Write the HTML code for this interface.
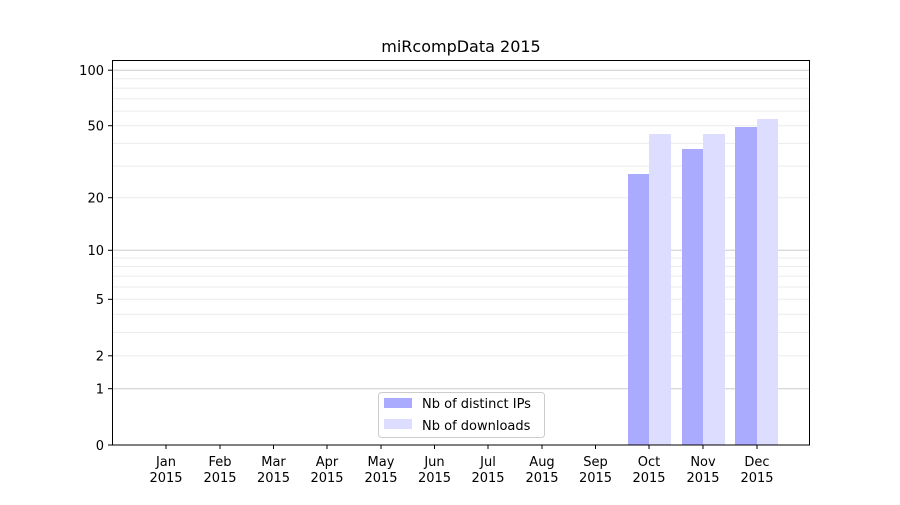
<!DOCTYPE html>
<html><head><meta charset="utf-8"><style>body{margin:0;background:#fff}</style></head><body>
<svg width="900" height="500" xmlns="http://www.w3.org/2000/svg" font-family="DejaVu Sans, Liberation Sans, sans-serif" font-size="13">
<rect width="900" height="500" fill="#fff"/>
<g stroke="#ebebeb" stroke-width="1">
<line x1="112" x2="810" y1="355.8" y2="355.8"/><line x1="112" x2="810" y1="332.4" y2="332.4"/><line x1="112" x2="810" y1="314.3" y2="314.3"/><line x1="112" x2="810" y1="299.3" y2="299.3"/><line x1="112" x2="810" y1="287" y2="287"/><line x1="112" x2="810" y1="276.1" y2="276.1"/><line x1="112" x2="810" y1="266.5" y2="266.5"/><line x1="112" x2="810" y1="258" y2="258"/>
<line x1="112" x2="810" y1="197.7" y2="197.7"/><line x1="112" x2="810" y1="166.1" y2="166.1"/><line x1="112" x2="810" y1="143.4" y2="143.4"/><line x1="112" x2="810" y1="125.7" y2="125.7"/><line x1="112" x2="810" y1="111.1" y2="111.1"/><line x1="112" x2="810" y1="98.8" y2="98.8"/><line x1="112" x2="810" y1="88.1" y2="88.1"/><line x1="112" x2="810" y1="78.7" y2="78.7"/>
</g>
<g stroke="#cccccc" stroke-width="1">
<line x1="112" x2="810" y1="388.7" y2="388.7"/><line x1="112" x2="810" y1="250.3" y2="250.3"/><line x1="112" x2="810" y1="70.2" y2="70.2"/>
</g>
<g fill="#aaaaff">
<rect x="628" y="174" width="21" height="271"/><rect x="682" y="149" width="21" height="296"/><rect x="735" y="127" width="22" height="318"/>
</g>
<g fill="#ddddff">
<rect x="649" y="134" width="22" height="311"/><rect x="703" y="134" width="22" height="311"/><rect x="757" y="119" width="21" height="326"/>
</g>
<rect x="112.5" y="60.5" width="697" height="384.5" fill="none" stroke="#000"/>
<g stroke="#000">
<line x1="108" x2="112" y1="445" y2="445"/><line x1="108" x2="112" y1="388.7" y2="388.7"/><line x1="108" x2="112" y1="355.8" y2="355.8"/><line x1="108" x2="112" y1="299.3" y2="299.3"/><line x1="108" x2="112" y1="250.3" y2="250.3"/><line x1="108" x2="112" y1="197.7" y2="197.7"/><line x1="108" x2="112" y1="125.7" y2="125.7"/><line x1="108" x2="112" y1="70.2" y2="70.2"/>
</g>
<g text-anchor="end">
<text x="104" y="450">0</text><text x="104" y="393.5">1</text><text x="104" y="360.5">2</text><text x="104" y="304">5</text><text x="104" y="255">10</text><text x="104" y="202.5">20</text><text x="104" y="130.5">50</text><text x="104" y="75">100</text>
</g>
<g stroke="#000">
<line x1="166" x2="166" y1="445" y2="449"/><line x1="220" x2="220" y1="445" y2="449"/><line x1="273.5" x2="273.5" y1="445" y2="449"/><line x1="327" x2="327" y1="445" y2="449"/><line x1="381" x2="381" y1="445" y2="449"/><line x1="434.5" x2="434.5" y1="445" y2="449"/><line x1="488" x2="488" y1="445" y2="449"/><line x1="542" x2="542" y1="445" y2="449"/><line x1="595.5" x2="595.5" y1="445" y2="449"/><line x1="649" x2="649" y1="445" y2="449"/><line x1="703" x2="703" y1="445" y2="449"/><line x1="757" x2="757" y1="445" y2="449"/>
</g>
<g text-anchor="middle">
<text x="166" y="466">Jan</text><text x="166" y="482">2015</text>
<text x="220" y="466">Feb</text><text x="220" y="482">2015</text>
<text x="273.5" y="466">Mar</text><text x="273.5" y="482">2015</text>
<text x="327" y="466">Apr</text><text x="327" y="482">2015</text>
<text x="381" y="466">May</text><text x="381" y="482">2015</text>
<text x="434.5" y="466">Jun</text><text x="434.5" y="482">2015</text>
<text x="488" y="466">Jul</text><text x="488" y="482">2015</text>
<text x="542" y="466">Aug</text><text x="542" y="482">2015</text>
<text x="595.5" y="466">Sep</text><text x="595.5" y="482">2015</text>
<text x="649" y="466">Oct</text><text x="649" y="482">2015</text>
<text x="703" y="466">Nov</text><text x="703" y="482">2015</text>
<text x="757" y="466">Dec</text><text x="757" y="482">2015</text>
<text x="461" y="52" font-size="16">miRcompData 2015</text>
</g>
<rect x="378.5" y="392.5" width="166" height="45" rx="3" fill="#fff" fill-opacity="0.8" stroke="#cccccc"/>
<rect x="384" y="398" width="28" height="10" fill="#aaaaff"/>
<rect x="384" y="419" width="28" height="10" fill="#ddddff"/>
<text x="422" y="408">Nb of distinct IPs</text>
<text x="422" y="430">Nb of downloads</text>
</svg>
</body></html>
